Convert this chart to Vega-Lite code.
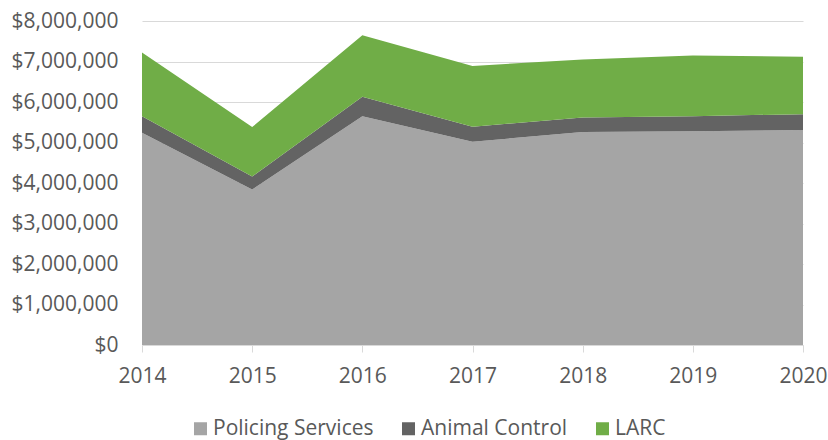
{
  "$schema": "https://vega.github.io/schema/vega-lite/v6.json",
  "width": 661,
  "height": 324,
  "autosize": {"type": "none"},
  "padding": {"left": 142, "top": 21, "right": 25, "bottom": 95},
  "background": "white",
  "config": {
    "view": {"stroke": null},
    "font": "Open Sans"
  },
  "data": {
    "values": [
      {"year": "2014", "series": "Policing Services", "value": 5240000},
      {"year": "2014", "series": "Animal Control", "value": 410000},
      {"year": "2014", "series": "LARC", "value": 1570000},
      {"year": "2015", "series": "Policing Services", "value": 3840000},
      {"year": "2015", "series": "Animal Control", "value": 320000},
      {"year": "2015", "series": "LARC", "value": 1220000},
      {"year": "2016", "series": "Policing Services", "value": 5650000},
      {"year": "2016", "series": "Animal Control", "value": 480000},
      {"year": "2016", "series": "LARC", "value": 1520000},
      {"year": "2017", "series": "Policing Services", "value": 5020000},
      {"year": "2017", "series": "Animal Control", "value": 370000},
      {"year": "2017", "series": "LARC", "value": 1500000},
      {"year": "2018", "series": "Policing Services", "value": 5260000},
      {"year": "2018", "series": "Animal Control", "value": 360000},
      {"year": "2018", "series": "LARC", "value": 1430000},
      {"year": "2019", "series": "Policing Services", "value": 5280000},
      {"year": "2019", "series": "Animal Control", "value": 370000},
      {"year": "2019", "series": "LARC", "value": 1500000},
      {"year": "2020", "series": "Policing Services", "value": 5310000},
      {"year": "2020", "series": "Animal Control", "value": 390000},
      {"year": "2020", "series": "LARC", "value": 1420000}
    ]
  },
  "transform": [
    {"calculate": "indexof(['Policing Services','Animal Control','LARC'], datum.series)", "as": "ord"}
  ],
  "mark": {"type": "area", "interpolate": "linear"},
  "encoding": {
    "x": {
      "field": "year",
      "type": "ordinal",
      "scale": {"type": "point", "padding": 0},
      "axis": {
        "title": null,
        "labelAngle": 0,
        "labelFontSize": 21,
        "labelColor": "#595959",
        "labelPadding": 13,
        "domainColor": "#D9D9D9",
        "tickColor": "#D9D9D9",
        "tickSize": 7,
        "grid": false
      }
    },
    "y": {
      "field": "value",
      "type": "quantitative",
      "stack": "zero",
      "scale": {"domain": [0, 8000000]},
      "axis": {
        "title": null,
        "values": [0,1000000,2000000,3000000,4000000,5000000,6000000,7000000,8000000],
        "format": "$,.0f",
        "labelFontSize": 21,
        "labelColor": "#595959",
        "labelPadding": 24,
        "labelOverlap": false,
        "domain": false,
        "ticks": false,
        "gridColor": "#D9D9D9",
        "gridWidth": 1
      }
    },
    "color": {
      "field": "series",
      "type": "nominal",
      "scale": {
        "domain": ["Policing Services", "Animal Control", "LARC"],
        "range": ["#A5A5A5", "#636363", "#70AD47"]
      },
      "legend": {
        "title": null,
        "orient": "none",
        "direction": "horizontal",
        "legendX": 48,
        "legendY": 397,
        "symbolType": "square",
        "symbolSize": 169,
        "symbolStrokeWidth": 0,
        "labelFontSize": 21,
        "labelColor": "#595959",
        "labelLimit": 400,
        "columnPadding": 24,
        "labelOffset": 2
      }
    },
    "order": {"field": "ord", "type": "quantitative"}
  }
}
